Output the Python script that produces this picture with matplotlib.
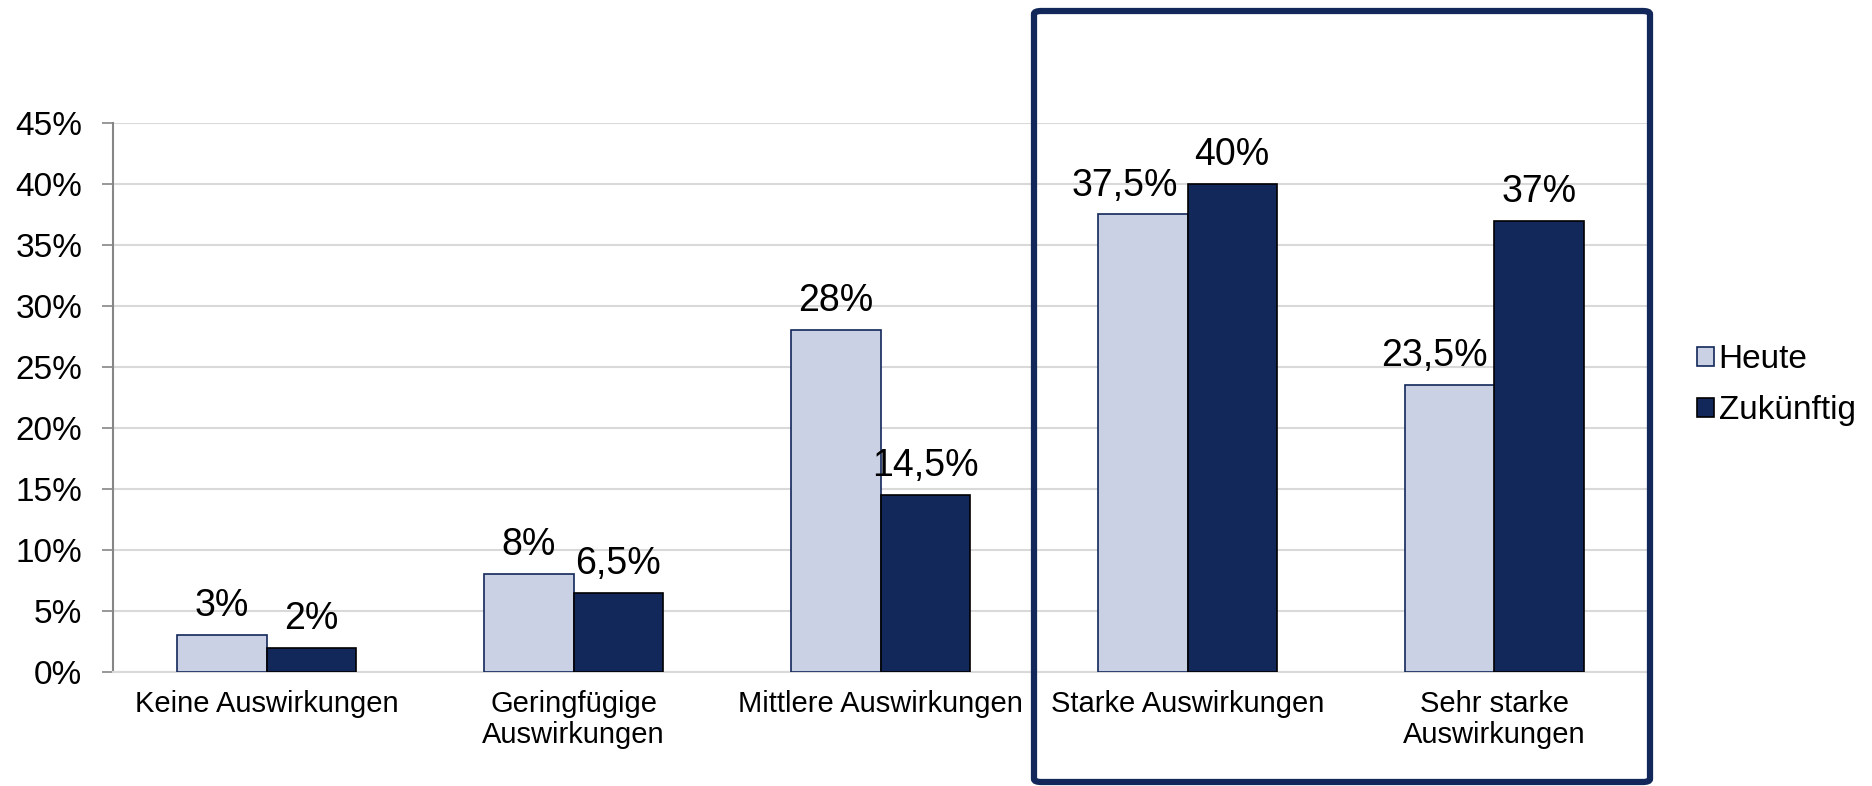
import numpy as np
import matplotlib.pyplot as plt
from matplotlib.patches import FancyBboxPatch

plt.rcParams['font.family'] = ['Liberation Sans', 'DejaVu Sans']

categories = ['Keine Auswirkungen', 'Geringfügige\nAuswirkungen', 'Mittlere Auswirkungen',
              'Starke Auswirkungen', 'Sehr starke\nAuswirkungen']
heute = [3, 8, 28, 37.5, 23.5]
zukunft = [2, 6.5, 14.5, 40, 37]
heute_labels = ['3%', '8%', '28%', '37,5%', '23,5%']
zukunft_labels = ['2%', '6,5%', '14,5%', '40%', '37%']
yticks = [0, 5, 10, 15, 20, 25, 30, 35, 40, 45]

light = '#cbd1e5'
navy = '#12275a'

fig = plt.figure(figsize=(18.72, 7.86), dpi=100)
ax = fig.add_axes([113/1872, 1-672/786, (1648-113)/1872, (672-123)/786])

x = np.arange(len(categories))
w = 0.29
b1 = ax.bar(x - w/2, heute, w, color=light, edgecolor=navy, linewidth=1.2, label='Heute', zorder=3)
b2 = ax.bar(x + w/2, zukunft, w, color=navy, edgecolor='black', linewidth=1.2, label='Zukünftig', zorder=3)

# wide labels on the right-hand groups sit slightly left of their bar
shift = [0, 0, 0, -0.06, -0.05]
for i in range(len(categories)):
    ax.text(x[i] - w/2 + shift[i], heute[i] + 0.9, heute_labels[i], ha='center', va='bottom', fontsize=27)
    ax.text(x[i] + w/2, zukunft[i] + 0.9, zukunft_labels[i], ha='center', va='bottom', fontsize=27)

ax.set_xlim(-0.5, len(categories) - 0.5)
ax.set_ylim(0, 45)
ax.set_yticks(yticks)
ax.set_yticklabels([f'{t}%' for t in yticks], fontsize=24)
ax.set_xticks(x)
ax.set_xticklabels(categories, fontsize=21, linespacing=1.15)
ax.tick_params(axis='x', length=0, pad=13)
ax.tick_params(axis='y', length=8, color='#868686', width=1.2, pad=14)
ax.grid(axis='y', color='#d9d9d9', linewidth=1.5, zorder=0)
for s in ['top', 'right']:
    ax.spines[s].set_visible(False)
ax.spines['left'].set_color('#868686')
ax.spines['left'].set_linewidth(1.5)
ax.spines['bottom'].set_color('#d9d9d9')
ax.spines['bottom'].set_linewidth(1.5)

fig.legend(handles=[b1, b2], loc='center left', bbox_to_anchor=(1697/1872, 1-385/786),
           frameon=False, fontsize=24, handlelength=0.5, handleheight=0.5,
           handletextpad=0.15, labelspacing=0.6, borderpad=0, borderaxespad=0)

box = FancyBboxPatch((1034/1872, 1-782/786), (1650-1034)/1872, (782-11)/786,
                     boxstyle='round,pad=0,rounding_size=0.004', transform=fig.transFigure,
                     facecolor='none', edgecolor=navy, linewidth=4.5, clip_on=False)
fig.patches.append(box)

fig.savefig('out.png', dpi=100)
